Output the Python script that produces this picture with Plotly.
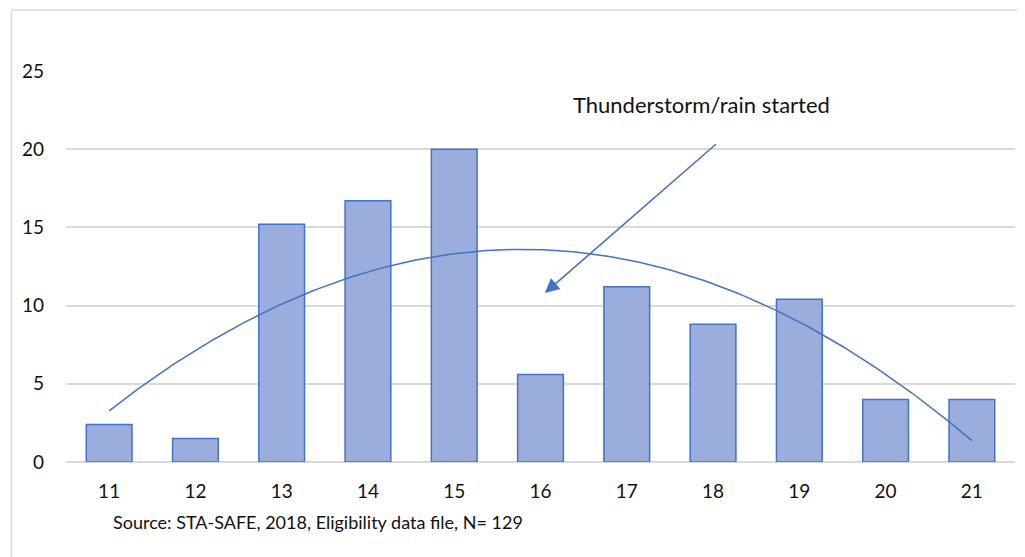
import numpy as np
import plotly.graph_objects as go

# Data ###########################################################################################################
ages = [11, 12, 13, 14, 15, 16, 17, 18, 19, 20, 21]
counts = [2.4, 1.5, 15.2, 16.7, 20.0, 5.6, 11.2, 8.8, 10.4, 4.0, 4.0]
y_ticks = [0, 5, 10, 15, 20, 25]

note_text = 'Thunderstorm/rain started'
source_text = 'Source: STA-SAFE, 2018, Eligibility data file, N= 129'

# polynomial (order 2) trendline, as in the original spreadsheet chart
coef = np.polyfit(ages, counts, 2)
trend_x = np.linspace(ages[0], ages[-1], 200)
trend_y = np.polyval(coef, trend_x)

BLUE = '#4472C4'
TXT = '#111111'
FONT = 'Lato, "Open Sans", sans-serif'

fig = go.Figure()

# bars
fig.add_trace(go.Bar(
    x=ages,
    y=counts,
    width=0.53,
    marker=dict(color='#9BADDD', line=dict(color=BLUE, width=1.5)),
    showlegend=False
))

# trend line
fig.add_trace(go.Scatter(
    x=trend_x,
    y=trend_y,
    mode='lines',
    line=dict(color=BLUE, width=1.5),
    showlegend=False,
    hoverinfo='skip'
))

# arrow + label
fig.add_annotation(
    x=16.05, y=10.8, ax=18.05, ay=20.4,
    xref='x', yref='y', axref='x', ayref='y',
    text='', showarrow=True,
    arrowhead=2, arrowsize=1.8, arrowwidth=1.6, arrowcolor=BLUE
)
fig.add_annotation(
    x=17.87, y=22.83, xref='x', yref='y',
    text=note_text, showarrow=False,
    font=dict(family=FONT, size=22, color=TXT)
)

# source line under the axis
fig.add_annotation(
    x=0.047, y=-0.153, xref='paper', yref='paper',
    xanchor='left', yanchor='middle',
    text=source_text, showarrow=False,
    font=dict(family=FONT, size=18, color=TXT)
)

# light frame (left and top edges) of the chart area
fig.add_shape(type='line', xref='paper', yref='paper',
              x0=-0.0574, x1=-0.0574, y0=1.156, y1=-0.3,
              line=dict(color='#D9D9D9', width=1.5))
fig.add_shape(type='line', xref='paper', yref='paper',
              x0=-0.0574, x1=1.02, y0=1.156, y1=1.156,
              line=dict(color='#D9D9D9', width=1.5))

# Update layout (page adds an 8px body margin, so the figure is sized to fit the window)
fig.update_layout(
    width=1017,
    height=549,
    margin=dict(l=58, r=10, t=63, b=95),
    plot_bgcolor='white',
    paper_bgcolor='white',
    font=dict(family=FONT, color=TXT),
    xaxis=dict(
        range=[10.5, 21.5],
        tickmode='array',
        tickvals=ages,
        ticktext=[str(a) for a in ages],
        showgrid=False,
        zeroline=False,
        showline=False,
        ticks='',
        ticklabelstandoff=16,
        tickfont=dict(family=FONT, size=19, color=TXT)
    ),
    yaxis=dict(
        range=[0, 25],
        tickmode='array',
        tickvals=y_ticks,
        showgrid=True,
        gridcolor='#D9D9D9',
        gridwidth=1.5,
        zeroline=True,
        zerolinecolor='#D9D9D9',
        zerolinewidth=1.5,
        showline=False,
        ticks='',
        ticklabelstandoff=21,
        tickfont=dict(family=FONT, size=19, color=TXT)
    )
)

fig.write_html('out.html')
